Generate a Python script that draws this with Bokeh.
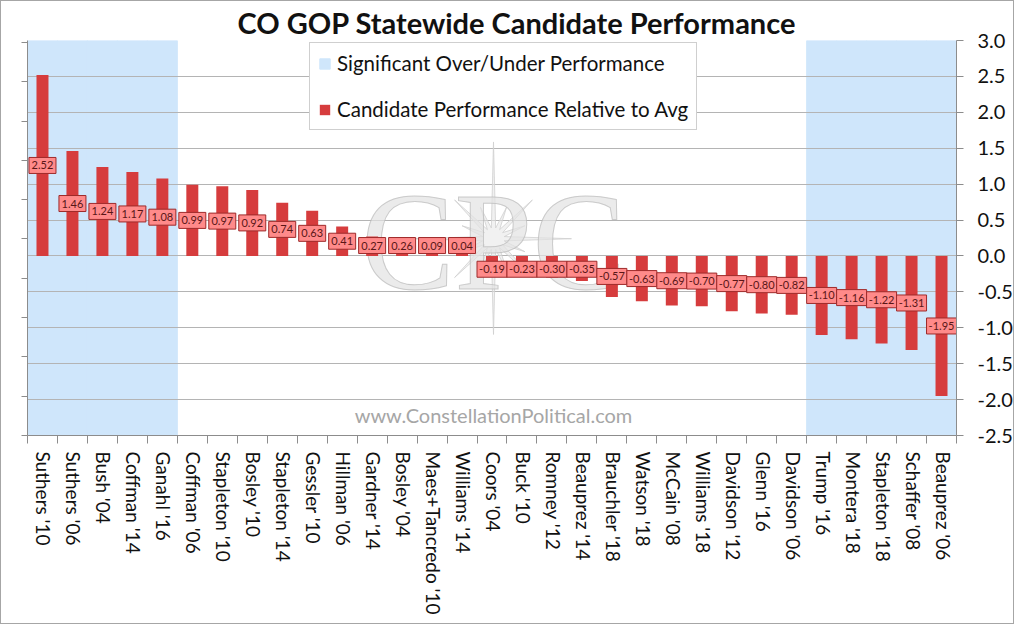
import math
from bokeh.plotting import figure
from bokeh.models import (Range1d, LinearAxis, FixedTicker, CustomJSTickFormatter,
                          ColumnDataSource, Legend, LegendItem, NumeralTickFormatter)
from bokeh.core.properties import value
from bokeh.embed import file_html
from bokeh.resources import INLINE

# ---------------- data ----------------
categories = ["Suthers '10", "Suthers '06", "Bush '04", "Coffman '14", "Ganahl '16",
              "Coffman '06", "Stapleton '10", "Bosley '10", "Stapleton '14", "Gessler '10",
              "Hillman '06", "Gardner '14", "Bosley '04", "Maes+Tancredo '10", "Williams '14",
              "Coors '04", "Buck '10", "Romney '12", "Beauprez '14", "Brauchler '18",
              "Watson '18", "McCain '08", "Williams '18", "Davidson '12", "Glenn '16",
              "Davidson '06", "Trump '16", "Montera '18", "Stapleton '18", "Schaffer '08",
              "Beauprez '06"]
performance = [2.52, 1.46, 1.24, 1.17, 1.08,
               0.99, 0.97, 0.92, 0.74, 0.63,
               0.41, 0.27, 0.26, 0.09, 0.04,
               -0.19, -0.23, -0.30, -0.35, -0.57,
               -0.63, -0.69, -0.70, -0.77, -0.80,
               -0.82, -1.10, -1.16, -1.22, -1.31,
               -1.95]
significant = [1, 1, 1, 1, 1,
               0, 0, 0, 0, 0,
               0, 0, 0, 0, 0,
               0, 0, 0, 0, 0,
               0, 0, 0, 0, 0,
               0, 1, 1, 1, 1,
               1]
y_ticks = [-2.5, -2.0, -1.5, -1.0, -0.5, 0.0, 0.5, 1.0, 1.5, 2.0, 2.5, 3.0]
title_text = "CO GOP Statewide Candidate Performance"
legend_labels = ["Significant Over/Under Performance", "Candidate Performance Relative to Avg"]
watermark_url = "www.ConstellationPolitical.com"
watermark_logo = "CPC"

# ---------------- styling ----------------
FONT = "Lato"
BAR = "#d63c3d"
SHADE = "#cfe6fb"
BOX_FILL = "#ff8a8a"
BOX_LINE = "#9e2a2a"
BOX_TEXT = "#5a1616"
AXIS_GRAY = "#8c8c8c"
GRID_GRAY = "#b4b4b4"

n = len(categories)
ymin, ymax = y_ticks[0], y_ticks[-1]

p = figure(width=1014, height=624,
           x_range=Range1d(0, n), y_range=Range1d(ymin, ymax),
           y_axis_location="right",
           output_backend="svg", toolbar_location=None,
           min_border_left=26, min_border_right=59,
           min_border_top=38, min_border_bottom=190)
p.styles = {"border": "1px solid #a6a6a6"}
p.outline_line_color = None
p.background_fill_color = "white"
p.border_fill_color = "white"

# title
p.title.text = title_text
p.title.text_font = FONT
p.title.text_font_style = "bold"
p.title.text_font_size = "29px"
p.title.text_color = "#111111"
p.title.align = "left"
p.title.offset = 210
p.title.standoff = 2

# grid
p.xgrid.visible = False
p.ygrid.ticker = FixedTicker(ticks=y_ticks)
p.ygrid.grid_line_color = GRID_GRAY
p.ygrid.grid_line_width = 1

# shading for significant performers
centers = [i + 0.5 for i in range(n)]
sig_x = [c for c, s in zip(centers, significant) if s]
shade_src = ColumnDataSource(dict(x=sig_x))
shade_r = p.vbar(x="x", width=1.0, top=ymax, bottom=ymin, source=shade_src,
                 fill_color=SHADE, line_color=SHADE, line_width=1, level="image")

# watermark star (decoration)
cx, cy = 15.55, 0.24
px_x = 929.0 / n          # pixels per x unit
px_y = 396.0 / (ymax - ymin)
outer = [97, 34, 55, 34, 78, 34, 55, 34, 96, 34, 55, 34, 78, 34, 55, 34]
sx, sy = [], []
for k in range(32):
    ang = math.pi / 2 - k * math.pi / 16
    r = outer[k // 2] if k % 2 == 0 else 11
    sx.append(cx + r * math.cos(ang) / px_x)
    sy.append(cy + r * math.sin(ang) / px_y)
p.patch(sx, sy, fill_color="#e6e6e6", fill_alpha=0.55, line_color="#cfcfcf",
        line_alpha=0.8, line_width=1)

# watermark letters
p.text(x=[cx], y=[0.2], text=[watermark_logo], text_align="center",
       text_baseline="middle", text_font=value("Liberation Serif"),
       text_font_size="140px", text_color="#e2e2e2", text_alpha=0.7,
       text_outline_color="#b9b9b9")
p.text(x=[cx], y=[-2.22], text=[watermark_url], text_align="center",
       text_baseline="middle", text_font=value(FONT), text_font_size="20px",
       text_color="#a6a6a6")

# bars
bar_src = ColumnDataSource(dict(x=centers, top=performance))
bar_r = p.vbar(x="x", top="top", bottom=0, width=0.4, source=bar_src,
               fill_color=BAR, line_color=None)

# data labels (centred on bar, kept off the zero line)
lab_y = [(max(v / 2, 0.145) if v >= 0 else min(v / 2, -0.185)) for v in performance]
lab_txt = [f"{v:.2f}" for v in performance]
lab_w = [27 if v >= 0 else 30 for v in performance]
lab_src = ColumnDataSource(dict(x=centers, y=lab_y, t=lab_txt, w=lab_w))
p.rect(x="x", y="y", width="w", height=16, width_units="screen", height_units="screen",
       source=lab_src, fill_color=BOX_FILL, line_color=BOX_LINE, line_width=1)
p.text(x="x", y="y", text="t", source=lab_src, text_align="center",
       text_baseline="middle", text_font=value(FONT), text_font_size="11px",
       text_color=BOX_TEXT)

# right (main) y axis
ya = p.yaxis[0]
ya.ticker = FixedTicker(ticks=y_ticks)
ya.formatter = NumeralTickFormatter(format="0.0")
ya.axis_line_color = AXIS_GRAY
ya.major_tick_line_color = AXIS_GRAY
ya.major_tick_out = 7
ya.major_tick_in = 0
ya.minor_tick_line_color = None
ya.major_label_standoff = 14
ya.major_label_text_font = FONT
ya.major_label_text_font_size = "20px"
ya.major_label_text_color = "#111111"

# left secondary axis (ticks only)
p.extra_y_ranges = {"left": Range1d(0, 10.05)}
la = LinearAxis(y_range_name="left", ticker=FixedTicker(ticks=list(range(11))),
                major_label_text_color=None, major_label_standoff=0,
                major_tick_out=6, major_tick_in=0, minor_tick_line_color=None,
                axis_line_color=AXIS_GRAY, major_tick_line_color=AXIS_GRAY)
p.add_layout(la, "left")

# x axis: labels at centres, tick marks at category boundaries
label_ticks = [c + 0.05 for c in centers]
xa = p.xaxis[0]
xa.ticker = FixedTicker(ticks=label_ticks, minor_ticks=list(range(n + 1)))
xa.formatter = CustomJSTickFormatter(args=dict(labels=categories),
                                     code="const i = Math.floor(tick); return labels[i] || '';")
xa.major_label_orientation = "vertical"
xa.major_tick_line_color = None
xa.major_tick_out = 0
xa.major_tick_in = 0
xa.minor_tick_line_color = AXIS_GRAY
xa.minor_tick_out = 8
xa.minor_tick_in = 0
xa.axis_line_color = AXIS_GRAY
xa.major_label_standoff = 8
xa.major_label_text_font = FONT
xa.major_label_text_font_size = "19px"
xa.major_label_text_color = "#111111"

# legend
legend = Legend(items=[LegendItem(label=legend_labels[0], renderers=[shade_r]),
                       LegendItem(label=legend_labels[1], renderers=[bar_r])],
                location=(282, 305), orientation="vertical",
                label_text_font=FONT, label_text_font_size="20.5px",
                label_text_color="#111111",
                glyph_width=13, glyph_height=13, label_standoff=6,
                padding=8, spacing=22, margin=0,
                border_line_color="#a0a0a0", border_line_width=1,
                background_fill_color="white", background_fill_alpha=1)
p.add_layout(legend)

open("out.html", "w").write(file_html(p, INLINE))
